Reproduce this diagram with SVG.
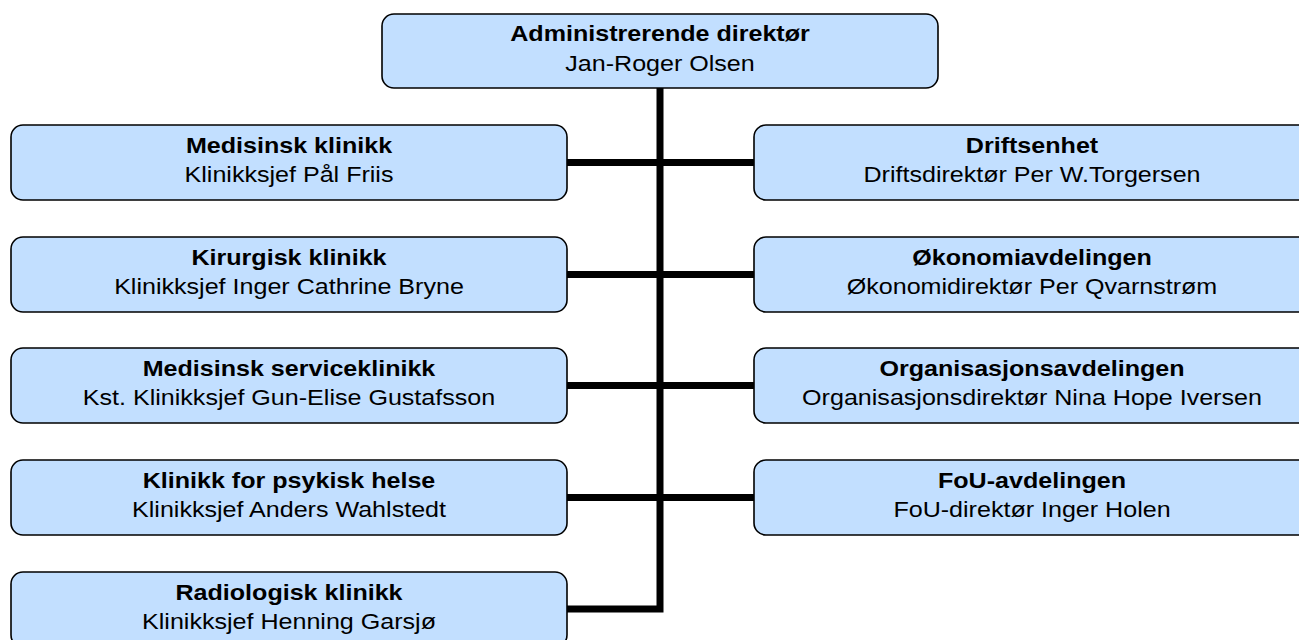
<svg xmlns="http://www.w3.org/2000/svg" width="1299" height="640" viewBox="0 0 1299 640">
<style>
.box{fill:#C2DFFF;stroke:#000;stroke-width:1.6}
text{font-family:"Liberation Sans",Arial,sans-serif;font-size:22px;fill:#000;text-anchor:middle}
.b{font-weight:bold}
.conn{stroke:#000;stroke-width:7;fill:none}
</style>
<g id="connectors">
<path class="conn" d="M660 88 V609 H567"/>
<path class="conn" d="M567 162.5 H754"/>
<path class="conn" d="M567 274.5 H754"/>
<path class="conn" d="M567 385.5 H754"/>
<path class="conn" d="M567 497.5 H754"/>
</g>
<g id="n-admin">
<rect class="box" x="382" y="14" width="556" height="74" rx="12"/>
<text transform="translate(660,0) scale(1.14,1)"><tspan class="b" x="0" y="41">Administrerende direktør</tspan><tspan x="0" y="71">Jan-Roger Olsen</tspan></text>
</g>
<g id="n-medisinsk">
<rect class="box" x="11" y="125" width="556" height="75" rx="12"/>
<text transform="translate(289,0) scale(1.14,1)"><tspan class="b" x="0" y="153">Medisinsk klinikk</tspan><tspan x="0" y="182">Klinikksjef Pål Friis</tspan></text>
</g>
<g id="n-kirurgisk">
<rect class="box" x="11" y="237" width="556" height="75" rx="12"/>
<text transform="translate(289,0) scale(1.14,1)"><tspan class="b" x="0" y="265">Kirurgisk klinikk</tspan><tspan x="0" y="294">Klinikksjef Inger Cathrine Bryne</tspan></text>
</g>
<g id="n-service">
<rect class="box" x="11" y="348" width="556" height="75" rx="12"/>
<text transform="translate(289,0) scale(1.14,1)"><tspan class="b" x="0" y="376">Medisinsk serviceklinikk</tspan><tspan x="0" y="405">Kst. Klinikksjef Gun-Elise Gustafsson</tspan></text>
</g>
<g id="n-psykisk">
<rect class="box" x="11" y="460" width="556" height="75" rx="12"/>
<text transform="translate(289,0) scale(1.14,1)"><tspan class="b" x="0" y="488">Klinikk for psykisk helse</tspan><tspan x="0" y="517">Klinikksjef Anders Wahlstedt</tspan></text>
</g>
<g id="n-radiologisk">
<rect class="box" x="11" y="572" width="556" height="75" rx="12"/>
<text transform="translate(289,0) scale(1.14,1)"><tspan class="b" x="0" y="600">Radiologisk klinikk</tspan><tspan x="0" y="629">Klinikksjef Henning Garsjø</tspan></text>
</g>
<g id="n-drift">
<rect class="box" x="754" y="125" width="556" height="75" rx="12"/>
<text transform="translate(1032,0) scale(1.14,1)"><tspan class="b" x="0" y="153">Driftsenhet</tspan><tspan x="0" y="182">Driftsdirektør Per W.Torgersen</tspan></text>
</g>
<g id="n-okonomi">
<rect class="box" x="754" y="237" width="556" height="75" rx="12"/>
<text transform="translate(1032,0) scale(1.14,1)"><tspan class="b" x="0" y="265">Økonomiavdelingen</tspan><tspan x="0" y="294">Økonomidirektør Per Qvarnstrøm</tspan></text>
</g>
<g id="n-organisasjon">
<rect class="box" x="754" y="348" width="556" height="75" rx="12"/>
<text transform="translate(1032,0) scale(1.14,1)"><tspan class="b" x="0" y="376">Organisasjonsavdelingen</tspan><tspan x="0" y="405">Organisasjonsdirektør Nina Hope Iversen</tspan></text>
</g>
<g id="n-fou">
<rect class="box" x="754" y="460" width="556" height="75" rx="12"/>
<text transform="translate(1032,0) scale(1.14,1)"><tspan class="b" x="0" y="488">FoU-avdelingen</tspan><tspan x="0" y="517">FoU-direktør Inger Holen</tspan></text>
</g>
</svg>
